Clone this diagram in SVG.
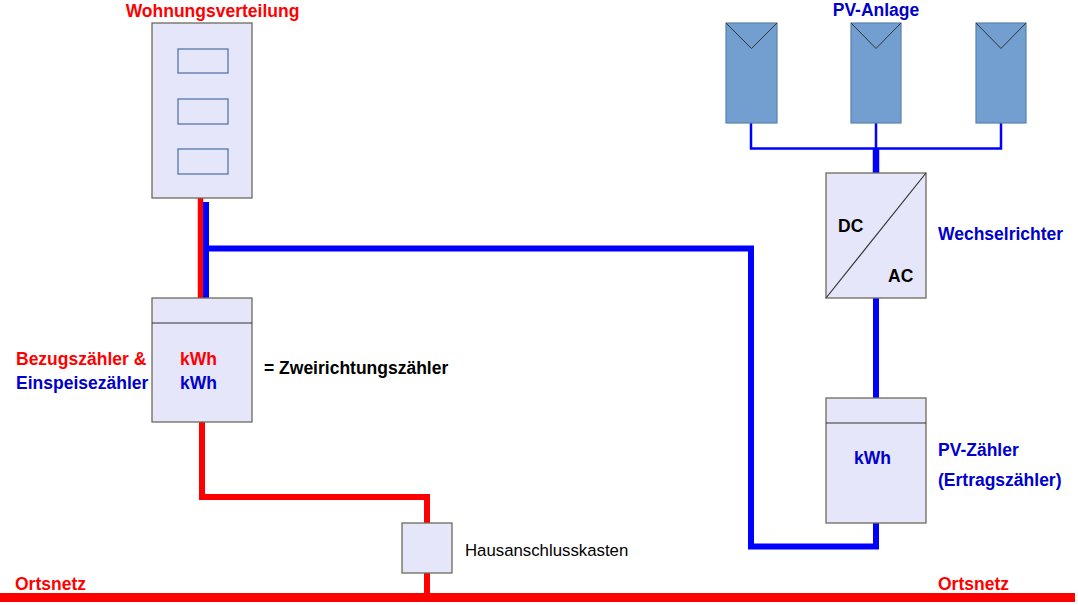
<svg xmlns="http://www.w3.org/2000/svg" width="1078" height="605" viewBox="0 0 1078 605">
<style>
.box{fill:#e6e6fa;stroke:#6b6b5b;stroke-width:1.3}
.slot{fill:none;stroke:#5577aa;stroke-width:1.3}
.panel{fill:#729fcf;stroke:#5a80ad;stroke-width:1.2}
.tri{fill:none;stroke:#333;stroke-width:1}
.div{stroke:#333;stroke-width:1.2}
.red{fill:none;stroke:#ff0000}
.blue{fill:none;stroke:#0000ff}
text{font-family:"Liberation Sans",Arial,sans-serif;font-weight:bold;font-size:17.5px}
.tr{fill:#ff0000}
.tb{fill:#0000cc}
.tk{fill:#000}
.tn{font-weight:normal;fill:#000;font-size:16.8px}
</style>
<g id="connectors">
<path class="red" stroke-width="5.5" d="M200.5 198 V298"/>
<path class="blue" stroke-width="6" d="M206 202 V301"/>
<path class="blue" stroke-width="6" stroke-linejoin="miter" d="M206 248.5 H751 V546.5 H876 V523"/>
<path class="blue" stroke-width="6" d="M876 298 V398"/>
<path class="blue" stroke-width="6.5" d="M876 149 V173"/>
<path class="blue" stroke-width="2.5" d="M751 123 V148.5 H1001 V123 M876 123 V149"/>
<path class="red" stroke-width="6" stroke-linejoin="miter" d="M202 422 V497 H427 V523"/>
<path class="red" stroke-width="6" d="M427 573 V594"/>
<path class="red" stroke-width="9" d="M0 597.5 H1075"/>
</g>
<g id="wohnungsverteilung">
<rect class="box" x="152" y="23" width="100" height="175"/>
<rect class="slot" x="178" y="49" width="50" height="24"/>
<rect class="slot" x="178" y="99" width="50" height="25"/>
<rect class="slot" x="178" y="149" width="50" height="25"/>
<text class="tr" x="212.5" y="17" text-anchor="middle">Wohnungsverteilung</text>
</g>
<g id="zweirichtungszaehler">
<rect class="box" x="152" y="298" width="100" height="124"/>
<line class="div" x1="152" y1="323" x2="252" y2="323"/>
<text class="tr" x="180" y="365">kWh</text>
<text class="tb" x="180" y="389">kWh</text>
<text class="tr" x="16" y="365">Bezugszähler &amp;</text>
<text class="tb" x="16" y="389">Einspeisezähler</text>
<text class="tk" x="264" y="374">= Zweirichtungszähler</text>
</g>
<g id="hausanschlusskasten">
<rect class="box" x="402" y="523" width="50" height="50"/>
<text class="tn" x="465" y="556">Hausanschlusskasten</text>
</g>
<g id="pv-anlage">
<rect class="panel" x="726" y="23" width="51" height="100"/>
<path class="tri" d="M726 23 L751.5 48.5 L777 23"/>
<rect class="panel" x="851" y="23" width="50" height="100"/>
<path class="tri" d="M851 23 L876 48.5 L901 23"/>
<rect class="panel" x="976" y="23" width="50" height="100"/>
<path class="tri" d="M976 23 L1001 48.5 L1026 23"/>
<text class="tb" x="876" y="16" text-anchor="middle">PV-Anlage</text>
</g>
<g id="wechselrichter">
<rect class="box" x="826" y="173" width="100" height="125"/>
<line class="div" x1="826" y1="298" x2="926" y2="173" stroke-width="1"/>
<text class="tk" x="838" y="232">DC</text>
<text class="tk" x="888" y="282">AC</text>
<text class="tb" x="938" y="240">Wechselrichter</text>
</g>
<g id="pv-zaehler">
<rect class="box" x="826" y="398" width="100" height="125"/>
<line class="div" x1="826" y1="423" x2="926" y2="423"/>
<text class="tb" x="854" y="464">kWh</text>
<text class="tb" x="938" y="456">PV-Zähler</text>
<text class="tb" x="938" y="486">(Ertragszähler)</text>
</g>
<g id="ortsnetz">
<text class="tr" x="15" y="590">Ortsnetz</text>
<text class="tr" x="938" y="590">Ortsnetz</text>
</g>
</svg>
